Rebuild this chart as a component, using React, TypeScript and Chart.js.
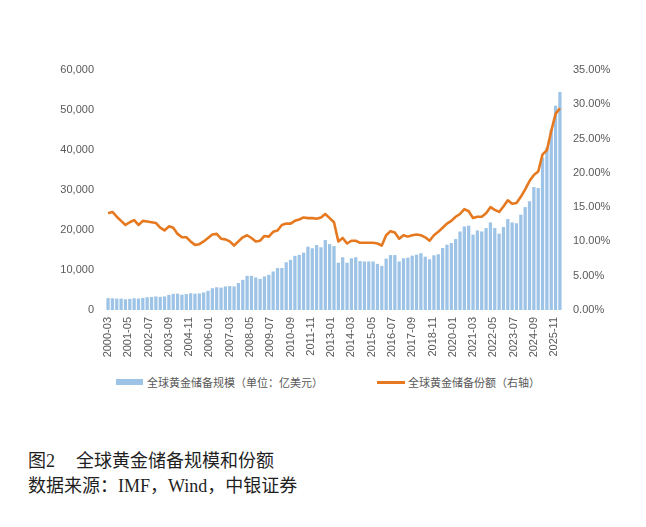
import React, { useEffect, useRef } from 'react';
import { Chart, registerables } from 'chart.js';

Chart.register(...registerables);

// quarterly, 2000-03 onwards (亿美元)
const reserveValues = [
  2900, 2850, 2780, 2750, 2600, 2700, 2850, 2780, 2950, 3100,
  3150, 3300, 3200, 3300, 3700, 3950, 4000, 3750, 3900, 4100,
  4000, 4050, 4300, 4700, 5350, 5600, 5500, 5800, 5900, 5800,
  6650, 7450, 8450, 8450, 8050, 7700, 8300, 8700, 9550, 10400,
  10400, 11850, 12450, 13450, 13700, 14250, 15750, 15350, 16150, 15600,
  17400, 16400, 15900, 11750, 13100, 11750, 12850, 13100, 12150, 12050,
  12050, 12050, 11450, 10950, 12750, 13650, 13650, 12050, 12850, 13000,
  13500, 13750, 14100, 13250, 12600, 13600, 13850, 15400, 16250, 16650,
  17650, 19550, 20800, 21000, 18750, 19800, 19550, 20400, 21800, 20400,
  19000, 20650, 22650, 21800, 21600, 23750, 25650, 27100, 30650, 30400,
  38000, 40500, 45000, 51000, 54400,
];

// share of gold in reserves, %
const shareValues = [
  14.1, 14.3, 13.6, 13.0, 12.4, 12.8, 13.1, 12.4, 13.0, 12.9,
  12.8, 12.7, 12.0, 11.6, 12.2, 12.0, 11.1, 10.6, 10.6, 10.0,
  9.5, 9.6, 10.0, 10.5, 11.0, 11.1, 10.4, 10.3, 10.0, 9.4,
  10.0, 10.6, 10.9, 10.5, 10.0, 10.1, 10.8, 10.7, 11.4, 11.6,
  12.4, 12.6, 12.6, 13.0, 13.2, 13.5, 13.4, 13.4, 13.3, 13.5,
  14.0, 13.4, 12.8, 10.0, 10.5, 9.7, 10.1, 10.1, 9.8, 9.8,
  9.8, 9.8, 9.7, 9.4, 10.9, 11.5, 11.3, 10.4, 10.9, 10.7,
  10.9, 11.0, 10.9, 10.6, 10.1, 10.9, 11.4, 12.0, 12.6, 13.0,
  13.6, 14.0, 14.7, 14.4, 13.4, 13.6, 13.6, 14.1, 15.0, 14.6,
  14.3, 15.1, 16.0, 15.5, 15.6, 16.5, 17.6, 18.8, 19.7, 20.2,
  22.7, 23.3, 26.1, 28.6, 29.4,
];

const tickLabels = [
  '2000-03', '2001-05', '2002-07', '2003-09', '2004-11', '2006-01',
  '2007-03', '2008-05', '2009-07', '2010-09', '2011-11', '2013-01',
  '2014-03', '2015-05', '2016-07', '2017-09', '2018-11', '2020-01',
  '2021-03', '2022-05', '2023-07', '2024-09', '2025-11',
];

const seriesLabels = ['全球黄金储备规模（单位：亿美元）', '全球黄金储备份额（右轴）'];

const barColor = '#9dc3e6';
const lineColor = '#e6791f';
const tickColor = '#595959';
const tickFont = { family: '"Liberation Sans", Arial, sans-serif', size: 11 };

// months counted from 2000-03
const monthOffset = (label: string) => {
  const [y, m] = label.split('-').map(Number);
  return (y - 2000) * 12 + m - 3;
};
const tickMonths = tickLabels.map(monthOffset);
const quarterMonth = (i: number) => i * 3;

const legendText: React.CSSProperties = {
  position: 'absolute',
  top: 366,
  height: 16,
  lineHeight: '16px',
  fontFamily: '"Noto Sans CJK SC", sans-serif',
  fontSize: 11,
  color: tickColor,
  whiteSpace: 'nowrap',
};

const App = () => {
  const canvasRef = useRef<HTMLCanvasElement | null>(null);

  useEffect(() => {
    if (!canvasRef.current) return;

    const chart = new Chart(canvasRef.current, {
      type: 'bar',
      data: {
        datasets: [
          {
            type: 'bar',
            label: seriesLabels[0],
            data: reserveValues.map((v, i) => ({ x: quarterMonth(i), y: v })),
            backgroundColor: barColor,
            borderWidth: 0,
            barThickness: 2.6,
            yAxisID: 'y',
            order: 2,
          },
          {
            type: 'line',
            label: seriesLabels[1],
            data: shareValues.map((v, i) => ({ x: quarterMonth(i), y: v })),
            borderColor: lineColor,
            backgroundColor: lineColor,
            borderWidth: 2.6,
            borderJoinStyle: 'round',
            pointRadius: 0,
            tension: 0,
            yAxisID: 'y1',
            order: 1,
          },
        ],
      },
      options: {
        animation: false,
        responsive: true,
        maintainAspectRatio: false,
        layout: { padding: { top: 62, left: 0, right: 20, bottom: 0 } },
        scales: {
          x: {
            type: 'linear',
            min: -3.5,
            max: 315.5,
            offset: false,
            grid: { display: false, drawTicks: false },
            border: { display: false },
            afterBuildTicks: (scale: any) => {
              scale.ticks = tickMonths.map((value) => ({ value }));
            },
            afterFit: (scale: any) => {
              scale.height = 58;
            },
            ticks: {
              autoSkip: false,
              minRotation: 90,
              maxRotation: 90,
              padding: 7,
              color: tickColor,
              font: tickFont,
              callback: (value: any) => {
                const idx = tickMonths.indexOf(Number(value));
                return idx >= 0 ? tickLabels[idx] : '';
              },
            },
          },
          y: {
            position: 'left',
            min: 0,
            max: 60000,
            grid: { display: false, drawTicks: false },
            border: { display: false },
            afterFit: (scale: any) => {
              scale.width = 95;
            },
            ticks: {
              stepSize: 10000,
              padding: 9,
              color: tickColor,
              font: tickFont,
              callback: (value: any) => Number(value).toLocaleString('en-US'),
            },
          },
          y1: {
            position: 'right',
            min: 0,
            max: 35,
            grid: { display: false, drawTicks: false },
            border: { display: false },
            afterFit: (scale: any) => {
              scale.width = 53;
            },
            ticks: {
              stepSize: 5,
              padding: 8,
              color: tickColor,
              font: tickFont,
              callback: (value: any) => Number(value).toFixed(2) + '%',
            },
          },
        },
        plugins: {
          legend: { display: false },
          tooltip: { enabled: false },
        },
      },
    } as any);

    return () => {
      chart.destroy();
    };
  }, []);

  return (
    <div>
      <div style={{ position: 'relative', width: 630, height: 390 }}>
        <div style={{ position: 'relative', width: 630, height: 360 }}>
          <canvas ref={canvasRef} />
        </div>
        <div style={{ position: 'absolute', left: 108, top: 371, width: 27, height: 6, background: barColor }} />
        <div style={{ ...legendText, left: 139 }}>{seriesLabels[0]}</div>
        <div style={{ position: 'absolute', left: 369, top: 372.5, width: 28, height: 3, background: lineColor }} />
        <div style={{ ...legendText, left: 400 }}>{seriesLabels[1]}</div>
      </div>
      <div
        style={{
          marginTop: 51,
          paddingLeft: 20,
          fontFamily: '"Liberation Serif", "Noto Sans CJK SC", serif',
          fontSize: 18,
          lineHeight: '25px',
          color: '#1f1f1f',
        }}
      >
        <div>
          图2<span style={{ marginLeft: 21 }}>全球黄金储备规模和份额</span>
        </div>
        <div>数据来源：IMF，Wind，中银证券</div>
      </div>
    </div>
  );
};

export default App;
